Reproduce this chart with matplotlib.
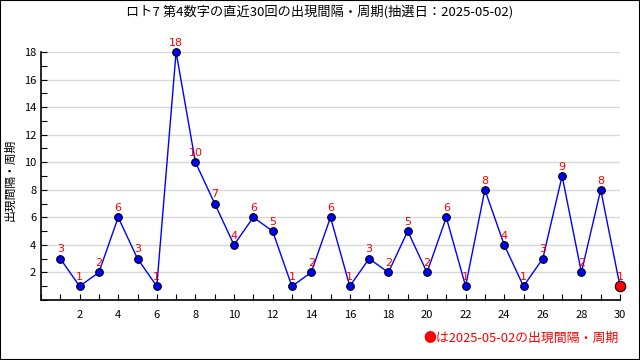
import matplotlib
matplotlib.use('Agg')
import matplotlib.pyplot as plt
from matplotlib.ticker import MultipleLocator
from matplotlib.patches import Rectangle

plt.rcParams['font.family'] = ['Noto Sans CJK JP', 'DejaVu Sans']

title = 'ロト7 第4数字の直近30回の出現間隔・周期(抽選日：2025-05-02)'
ylabel = '出現間隔・周期'
note = '●は2025-05-02の出現間隔・周期'

draws = list(range(1, 31))
gaps = [3, 1, 2, 6, 3, 1, 18, 10, 7, 4, 6, 5, 1, 2, 6, 1, 3, 2, 5, 2,
        6, 1, 8, 4, 1, 3, 9, 2, 8, 1]

fig = plt.figure(figsize=(6.4, 3.6), dpi=100)
ax = fig.add_axes([41 / 640, 1 - 300 / 360, 579 / 640, 248 / 360])

ax.plot(draws, gaps, color='blue', lw=1, marker='o', ms=5.5,
        mfc='blue', mec='black', mew=0.8, clip_on=False, zorder=3)
# latest draw highlighted
ax.plot(draws[-1], gaps[-1], marker='o', ms=7.5, mfc='red', mec='black',
        mew=0.8, clip_on=False, zorder=4)

for x, y in zip(draws, gaps):
    ax.annotate(str(y), (x, y), xytext=(0, 3), textcoords='offset points',
                ha='center', va='bottom', color='red', fontsize=8,
                family='DejaVu Sans')

ax.set_xlim(0, 30)
ax.set_ylim(0, 18)
ax.xaxis.set_minor_locator(MultipleLocator(1))
ax.yaxis.set_minor_locator(MultipleLocator(1))
ax.set_xticks(range(2, 31, 2))
ax.set_yticks(range(2, 19, 2))
ax.tick_params(which='both', direction='in', length=4, width=0.8, labelsize=8)
ax.tick_params(axis='x', pad=7)
ax.grid(axis='y', which='major', color='#d8d8d8', lw=1)
ax.set_axisbelow(True)
for s in ['top', 'right']:
    ax.spines[s].set_visible(False)
for s in ['left', 'bottom']:
    ax.spines[s].set_linewidth(1.2)

fig.text(0.5, 1 - 12 / 360, title, ha='center', va='center', fontsize=9.5)
fig.text(10 / 640, 0.5, ylabel, ha='center', va='center', rotation=90, fontsize=8.5)
fig.text(619 / 640, 1 - 338 / 360, note, ha='right', va='center',
         fontsize=9.3, color='red')

fig.patches.append(Rectangle((0, 0), 1, 1, transform=fig.transFigure,
                             fill=False, ec='black', lw=1.5))

fig.savefig('out.png', dpi=100)
